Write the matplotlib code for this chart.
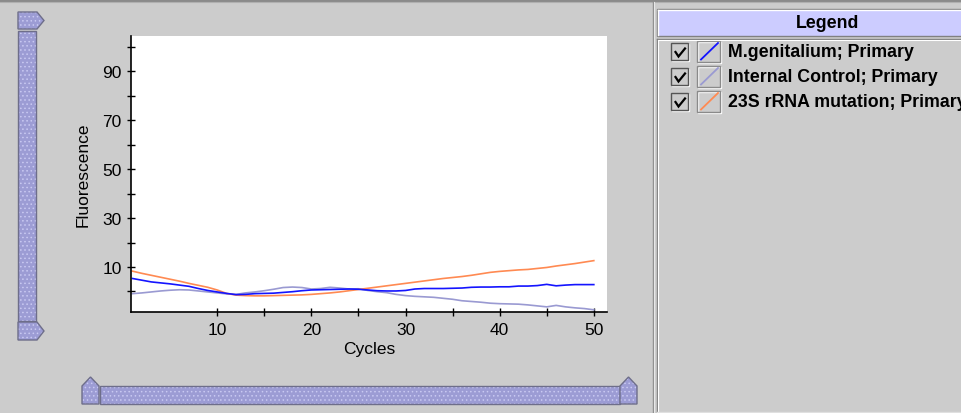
import matplotlib
matplotlib.use('Agg')
import matplotlib.pyplot as plt
from matplotlib.patches import Rectangle, Polygon

# values (cycle 1..50)
cycles = list(range(1, 51))

m_genitalium = [5.3, 4.6, 3.9, 3.5, 3.1, 2.6, 2.1, 1.2, 0.4, -0.2,
                -0.8, -1.3, -1.2, -0.9, -0.8, -0.7, -0.4, -0.1, 0.3, 0.6,
                0.7, 0.8, 0.9, 1.0, 0.9, 0.6, 0.3, 0.2, 0.2, 0.4,
                1.0, 1.2, 1.2, 1.2, 1.3, 1.4, 1.7, 1.8, 1.8, 1.9,
                1.9, 2.2, 2.2, 2.4, 2.9, 2.3, 2.6, 2.8, 2.8, 2.8]

internal_control = [-0.9, -0.6, -0.2, 0.2, 0.5, 0.7, 0.6, 0.2, -0.2, -0.6,
                    -1.0, -1.2, -0.6, -0.2, 0.3, 0.9, 1.6, 1.8, 1.6, 1.0,
                    1.2, 1.7, 1.4, 1.0, 1.1, 0.4, -0.1, -0.5, -1.2, -1.7,
                    -2.0, -2.2, -2.4, -2.8, -3.2, -3.8, -4.1, -4.4, -4.8, -5.0,
                    -5.1, -5.2, -5.5, -5.9, -6.3, -5.7, -6.3, -6.7, -7.0, -7.5]

rrna_23s = [8.3, 7.4, 6.6, 5.8, 5.0, 4.2, 3.3, 2.5, 1.7, 0.6,
            -0.8, -1.5, -1.7, -1.8, -1.8, -1.7, -1.6, -1.5, -1.4, -1.2,
            -0.9, -0.6, -0.2, 0.3, 0.8, 1.3, 1.8, 2.3, 2.8, 3.3,
            3.8, 4.3, 4.8, 5.3, 5.7, 6.1, 6.6, 7.2, 7.8, 8.2,
            8.5, 8.8, 9.0, 9.4, 9.8, 10.4, 10.9, 11.4, 12.0, 12.6]

series_names = ['M.genitalium; Primary', 'Internal Control; Primary', '23S rRNA mutation; Primary']
series_colors = ['#1414ff', '#9a9ad2', '#ff8a52']

x_major = [10, 20, 30, 40, 50]
x_minor = [15, 25, 35, 45]
y_major = [10, 30, 50, 70, 90]
y_minor = [0, 20, 40, 60, 80, 100]

plt.rcParams['font.family'] = ['Liberation Sans', 'DejaVu Sans']
plt.rcParams['hatch.linewidth'] = 0.6

W, H = 962, 414
GRAY = '#cccccc'
fig = plt.figure(figsize=(W / 100, H / 100), dpi=100, facecolor=GRAY)

# background layer in pixel coordinates (window chrome)
bg = fig.add_axes([0, 0, 1, 1], zorder=0)
bg.set_xlim(0, W)
bg.set_ylim(H, 0)
bg.axis('off')

bg.add_patch(Rectangle((0, 0), W, 2.5, color='#8a8a8a', lw=0))
bg.plot([0, W], [3, 3], color='#b0b0b0', lw=0.8)

# split pane divider
bg.plot([653, 653], [3, H], color='#8c8c8c', lw=1)
bg.plot([654.5, 654.5], [3, H], color='#e8e8e8', lw=0.8)

# scrollbars
SB_FACE, SB_DOTS, SB_EDGE = '#9c9cd4', '#c9c9f2', '#6e6e8a'
def sb_shape(pts):
    bg.add_patch(Polygon(pts, closed=True, facecolor=SB_FACE, edgecolor=SB_DOTS,
                         hatch='....', lw=0))
    bg.add_patch(Polygon(pts, closed=True, facecolor='none', edgecolor=SB_EDGE, lw=1))

sb_shape([(18, 13), (37, 13), (44, 21.5), (37, 30), (18, 30)])
sb_shape([(18, 32), (36, 32), (36, 322), (18, 322)])
sb_shape([(18, 323), (37, 323), (44, 332), (37, 341), (18, 341)])
sb_shape([(82, 405), (82, 387), (90.5, 378), (99, 387), (99, 405)])
sb_shape([(100, 387), (620, 387), (620, 405), (100, 405)])
sb_shape([(620, 405), (620, 387), (628.5, 378), (637, 387), (637, 405)])

# legend panel
bg.add_patch(Rectangle((657, 9.5), 320, 27.5, facecolor='#ccccff', edgecolor='#808080', lw=1))
bg.plot([658.5, 962], [11, 11], color='white', lw=1)
bg.plot([658.5, 658.5], [11, 36], color='white', lw=1)
bg.text(828, 24, 'Legend', fontsize=12.8, fontweight='bold', ha='center', va='center')

bg.plot([657, 962], [39.5, 39.5], color='#808080', lw=1)
bg.plot([657, 657], [39.5, H], color='#808080', lw=1)
bg.plot([658.5, 962], [41, 41], color='white', lw=0.8)
bg.plot([658.5, 658.5], [41, H], color='white', lw=0.8)
bg.plot([657, 962], [413, 413], color='#e0e0e0', lw=1)

for i, (name, col) in enumerate(zip(series_names, series_colors)):
    top = 43.5 + 25 * i
    # checkbox
    bg.add_patch(Rectangle((672, top + 1), 17, 17, facecolor='none', edgecolor='white', lw=1))
    bg.add_patch(Rectangle((671, top), 17, 17, facecolor=GRAY, edgecolor='#555555', lw=1))
    bg.plot([675.5, 678.5, 685], [top + 9.5, top + 14, top + 6], color='black', lw=1.6,
            solid_joinstyle='miter')
    # line icon
    bg.add_patch(Rectangle((698, top - 0.5), 23, 21, facecolor='none', edgecolor='white', lw=1))
    bg.add_patch(Rectangle((697, top - 1.5), 23, 21, facecolor='none', edgecolor='#8a8a8a', lw=1))
    bg.plot([701, 718], [top + 17, top + 0.5], color=col, lw=1.3)
    bg.text(728, top + 9, name, fontsize=12.8, fontweight='bold', ha='left', va='center')

# chart
ax = fig.add_axes([131.5 / W, (H - 313) / H, (607 - 131.5) / W, (313 - 37.3) / H], zorder=1)
ax.set_facecolor('white')
ax.plot(cycles, internal_control, color=series_colors[1], lw=1.2)
ax.plot(cycles, rrna_23s, color=series_colors[2], lw=1.2)
ax.plot(cycles, m_genitalium, color=series_colors[0], lw=1.2)

ax.set_xlim(0.9, 51.4)
ax.set_ylim(-8.4, 104.3)
ax.set_xticks(x_major)
ax.set_xticks(x_minor, minor=True)
ax.set_yticks(y_major)
ax.set_yticks(y_minor, minor=True)
ax.tick_params(which='both', direction='inout', length=6, width=1, color='black')
ax.tick_params(axis='x', labelsize=12.5, pad=4)
ax.tick_params(axis='y', labelsize=12.5, pad=4)
for s in ['top', 'right']:
    ax.spines[s].set_visible(False)
for s in ['left', 'bottom']:
    ax.spines[s].set_linewidth(1.2)

ax.set_xlabel('Cycles', fontsize=12.5, labelpad=3)
ax.set_ylabel('Fluorescence', fontsize=12.5)
ax.yaxis.set_label_coords(-0.085, 0.5)

fig.savefig('out.png', dpi=100, facecolor=GRAY)
